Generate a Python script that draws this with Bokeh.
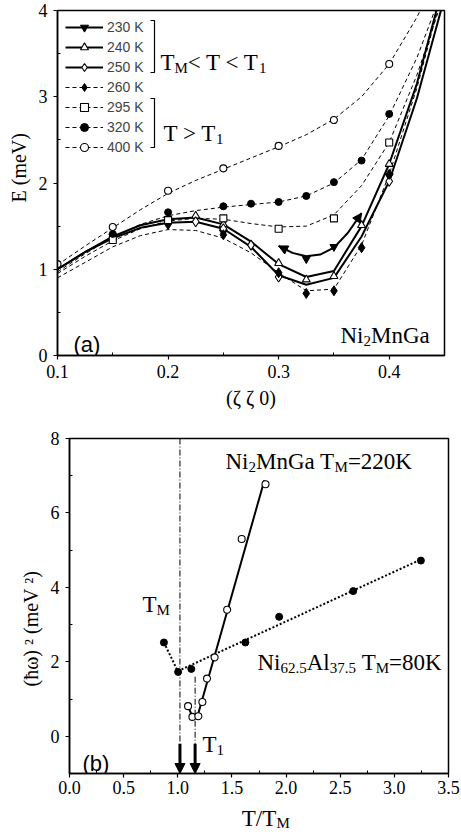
from bokeh.plotting import figure
from bokeh.models import (Legend, LegendItem, Label, Arrow, NormalHead, FixedTicker,
                          NumeralTickFormatter, Title)
from bokeh.embed import file_html
from bokeh.resources import INLINE

SERIF = "Liberation Serif"
SANS = "Liberation Sans"

# ---------------- panel (a) : measured points ----------------
q_230 = [0.15, 0.20, 0.25, 0.325, 0.35, 0.40]
E_230 = [1.38, 1.57, 1.43, 1.12, 1.26, 2.08]
q_240 = [0.15, 0.20, 0.225, 0.25, 0.30, 0.325, 0.35, 0.375, 0.40]
E_240 = [1.37, 1.58, 1.62, 1.52, 1.07, 0.88, 0.92, 1.51, 2.22]
q_250 = [0.15, 0.20, 0.225, 0.25, 0.275, 0.30, 0.40]
E_250 = [1.36, 1.55, 1.55, 1.47, 1.28, 0.91, 2.02]
q_260 = [0.15, 0.20, 0.25, 0.30, 0.325, 0.35, 0.375, 0.40]
E_260 = [1.40, 1.52, 1.40, 0.96, 0.72, 0.75, 1.25, 2.10]
q_295 = [0.15, 0.20, 0.25, 0.30, 0.35, 0.40]
E_295 = [1.34, 1.57, 1.59, 1.47, 1.59, 2.47]
q_320 = [0.15, 0.20, 0.25, 0.275, 0.30, 0.325, 0.35, 0.375, 0.40]
E_320 = [1.41, 1.66, 1.73, 1.76, 1.78, 1.85, 2.01, 2.26, 2.80]
q_400 = [0.10, 0.15, 0.20, 0.25, 0.30, 0.35, 0.40]
E_400 = [1.06, 1.49, 1.91, 2.17, 2.43, 2.73, 3.38]

# fitted curves
q_fit = [0.100, 0.125, 0.150, 0.175, 0.200, 0.225, 0.250, 0.275, 0.300,
         0.325, 0.350, 0.375, 0.400, 0.425, 0.450]
fit_240 = [1.00, 1.20, 1.38, 1.51, 1.58, 1.60, 1.52, 1.32, 1.06, 0.91, 0.98, 1.50, 2.22, 3.15, 4.35]
fit_250 = [1.00, 1.20, 1.36, 1.48, 1.54, 1.55, 1.47, 1.26, 0.93, 0.82, 0.90, 1.38, 2.02, 2.98, 4.15]
fit_260 = [0.90, 1.08, 1.26, 1.39, 1.46, 1.45, 1.36, 1.19, 0.96, 0.75, 0.77, 1.28, 2.10, 3.10, 4.30]
fit_295 = [0.95, 1.15, 1.33, 1.47, 1.56, 1.59, 1.58, 1.53, 1.49, 1.50, 1.63, 1.97, 2.47, 3.25, 4.20]
fit_320 = [0.97, 1.18, 1.37, 1.52, 1.62, 1.68, 1.72, 1.75, 1.78, 1.85, 2.00, 2.27, 2.78, 3.45, 4.30]
fit_400 = [1.05, 1.27, 1.48, 1.69, 1.88, 2.03, 2.16, 2.29, 2.42, 2.56, 2.74, 3.00, 3.38, 3.92, 4.60]
q_fit_230 = [0.300, 0.3125, 0.325, 0.3375, 0.350, 0.3625, 0.375]
fit_230 = [1.27, 1.19, 1.15, 1.17, 1.25, 1.42, 1.65]

# ---------------- panel (b) ----------------
t_nmg = [1.095, 1.135, 1.19, 1.227, 1.27, 1.34, 1.456, 1.59, 1.81]
w2_nmg = [0.81, 0.52, 0.54, 0.92, 1.55, 2.12, 3.40, 5.30, 6.77]
t_nmg_fit = [1.095, 1.135, 1.18, 1.80]
w2_nmg_fit = [0.81, 0.52, 0.52, 6.88]
t_nal = [0.872, 1.003, 1.125, 1.624, 1.936, 2.62, 3.245]
w2_nal = [2.52, 1.73, 1.81, 2.52, 3.21, 3.90, 4.72]
t_nal_fit = [0.872, 1.0, 3.245]
w2_nal_fit = [2.52, 1.75, 4.75]
tm_pos, t1_pos = 1.02, 1.16
t1_line_top = 1.6
arrow_top = -0.2

W = 461

# ---------------- panel (a) figure ----------------
A_L, A_R, A_T, A_B = 57, 444, 10, 355     # page pixel frame
H1 = 420
p1 = figure(width=W, height=H1, x_range=(0.1, 0.45), y_range=(0, 4),
            output_backend="svg", toolbar_location=None,
            min_border_left=A_L, min_border_right=W - A_R,
            min_border_top=A_T, min_border_bottom=H1 - A_B)

def ax(px):
    return 0.1 + (px - A_L) * 0.35 / (A_R - A_L)

def ay(py):
    return (A_B - py) * 4.0 / (A_B - A_T)

B_L, B_R, B_T, B_B = 69, 448, 438, 773
H2 = 417
p2 = figure(width=W, height=H2, x_range=(0, 3.5), y_range=(-1, 8),
            output_backend="svg", toolbar_location=None,
            min_border_left=B_L, min_border_right=W - B_R,
            min_border_top=B_T - H1, min_border_bottom=H1 + H2 - B_B)

def bx(px):
    return (px - B_L) * 3.5 / (B_R - B_L)

def by(py):
    return -1 + (B_B - py) * 9.0 / (B_B - B_T)

for p in (p1, p2):
    p.xgrid.visible = False
    p.ygrid.visible = False
    p.outline_line_color = "black"
    p.outline_line_width = 1.5
    p.background_fill_color = "white"
    p.border_fill_color = "white"
    for a in (p.xaxis, p.yaxis):
        a.axis_line_width = 1.5
        a.axis_line_color = "black"
        a.major_tick_line_color = "black"
        a.minor_tick_line_color = "black"
        a.major_tick_line_width = 1.2
        a.minor_tick_line_width = 1
        a.major_label_text_font = SERIF
        a.major_label_text_font_size = "18px"
        a.major_label_text_color = "black"
        a.major_tick_out = 4
        a.major_tick_in = 0
        a.minor_tick_out = 0
        a.minor_tick_in = 3
        a.axis_label_text_font = SERIF
        a.axis_label_text_font_style = "normal"
        a.axis_label_text_color = "black"

p1.xaxis.ticker = FixedTicker(ticks=[0.1, 0.2, 0.3, 0.4], minor_ticks=[0.15, 0.25, 0.35, 0.45])
p1.yaxis.ticker = FixedTicker(ticks=[0, 1, 2, 3, 4], minor_ticks=[0.5, 1.5, 2.5, 3.5])
p1.xaxis.formatter = NumeralTickFormatter(format="0.0")
p1.xaxis.major_label_standoff = 5
p1.yaxis.major_label_standoff = 6
p1.xaxis.axis_label = "(ζ ζ 0)"
p1.xaxis.axis_label_text_font_size = "20px"
p1.xaxis.axis_label_standoff = 6

p2.xaxis.ticker = FixedTicker(ticks=[0, 0.5, 1, 1.5, 2, 2.5, 3, 3.5],
                              minor_ticks=[0.25, 0.75, 1.25, 1.75, 2.25, 2.75, 3.25])
p2.yaxis.ticker = FixedTicker(ticks=[0, 2, 4, 6, 8], minor_ticks=[-1, 1, 3, 5, 7])
p2.xaxis.formatter = NumeralTickFormatter(format="0.0")
p2.xaxis.major_label_standoff = 3
p2.yaxis.major_label_standoff = 6
p2.xaxis.axis_label = "T/T"
p2.xaxis.axis_label_text_font_size = "23px"
p2.xaxis.axis_label_standoff = 9

# rotated axis titles placed along the axis like the reference
p1.add_layout(Title(text="E (meV)", align="left", offset=153, standoff=11,
                    text_font=SERIF, text_font_size="20px", text_font_style="normal",
                    text_color="black"), "left")
p2.add_layout(Title(text="(ħω) ² (meV ²)", align="left", offset=87, standoff=11,
                    text_font=SERIF, text_font_size="20px", text_font_style="normal",
                    text_color="black"), "left")
# subscript of T/T_M
p2.add_layout(Title(text="M", align="left", offset=207, standoff=-37, vertical_align="top",
                    text_font=SERIF, text_font_size="15px", text_font_style="normal",
                    text_color="black"), "below")

DASH = "4 3"
MS = 7

def open_m(p, x, y, marker, size=MS):
    return p.scatter(x, y, marker=marker, size=size, fill_color="white",
                     line_color="black", line_width=1.1)

def full_m(p, x, y, marker, size=MS):
    return p.scatter(x, y, marker=marker, size=size, fill_color="black",
                     line_color="black", line_width=1)

# curves
l230 = p1.line(q_fit_230, fit_230, line_color="black", line_width=2)
l240 = p1.line(q_fit, fit_240, line_color="black", line_width=2)
l250 = p1.line(q_fit, fit_250, line_color="black", line_width=2)
l260 = p1.line(q_fit, fit_260, line_color="black", line_width=1, line_dash=DASH)
l295 = p1.line(q_fit, fit_295, line_color="black", line_width=1, line_dash=DASH)
l320 = p1.line(q_fit, fit_320, line_color="black", line_width=1, line_dash=DASH)
l400 = p1.line(q_fit, fit_400, line_color="black", line_width=1, line_dash=DASH)

# arrowheads of the 230 K branch
for i0, i1 in ((1, 0), (-2, -1)):
    p1.add_layout(Arrow(end=NormalHead(size=9, fill_color="black", line_color="black"),
                        x_start=q_fit_230[i0], y_start=fit_230[i0],
                        x_end=q_fit_230[i1], y_end=fit_230[i1], line_alpha=0))

m230 = full_m(p1, q_230, E_230, "inverted_triangle", 8)
m240 = open_m(p1, q_240, E_240, "triangle", 8)
m250 = open_m(p1, q_250, E_250, "diamond", 10)
m260 = full_m(p1, q_260, E_260, "diamond", 10)
m295 = open_m(p1, q_295, E_295, "square", 7)
m320 = full_m(p1, q_320, E_320, "circle", 7)
m400 = open_m(p1, q_400, E_400, "circle", 7)

labels = ["230 K", "240 K", "250 K", "260 K", "295 K", "320 K", "400 K"]
pairs = [(l230, m230), (l240, m240), (l250, m250), (l260, m260),
         (l295, m295), (l320, m320), (l400, m400)]
legend = Legend(items=[LegendItem(label=lab, renderers=list(rr)) for lab, rr in zip(labels, pairs)],
                location=(8, A_B - 157), orientation="vertical",
                glyph_width=38, glyph_height=20, label_height=20, label_standoff=4,
                spacing=0, padding=0, margin=0,
                label_text_font=SANS, label_text_font_size="14px",
                background_fill_alpha=0, border_line_alpha=0)
p1.add_layout(legend)

# brackets
for top, bot in ((20, 72), (98, 147)):
    p1.line([ax(150), ax(154), ax(154), ax(150)], [ay(top), ay(top), ay(bot), ay(bot)],
            line_color="black", line_width=1.2)

def lab(p, x, y, text, size, font=SERIF, dx=0, dy=0, angle=0, align="left", baseline="alphabetic"):
    p.add_layout(Label(x=x, y=y, x_offset=dx, y_offset=dy, text=text, text_font=font,
                       text_font_size=f"{size}px", text_color="black", text_align=align,
                       text_baseline=baseline, angle=angle))

# "T_M< T < T_1"
lab(p1, ax(160), ay(62), "T", 23)
lab(p1, ax(160), ay(62), "M", 15, dx=14, dy=-5)
lab(p1, ax(160), ay(62), "< T < T", 23, dx=27.3)
lab(p1, ax(160), ay(62), "1", 15, dx=98.6, dy=-5)
# "T > T_1"
lab(p1, ax(163), ay(133), "T > T", 23)
lab(p1, ax(163), ay(133), "1", 15, dx=52.6, dy=-5)
# (a), Ni2MnGa
lab(p1, ax(73), ay(344), "(a)", 22, font=SANS)
lab(p1, ax(340), ay(335), "Ni", 23)
lab(p1, ax(340), ay(335), "2", 15, dx=23, dy=-5)
lab(p1, ax(340), ay(335), "MnGa", 23, dx=30.5)

# ---------------- panel (b) ----------------
p2.line([tm_pos, tm_pos], [8, arrow_top], line_color="black", line_width=1, line_dash="6 2 1 2")
p2.line([t1_pos, t1_pos], [t1_line_top, arrow_top], line_color="black", line_width=1, line_dash="6 2 1 2")
for xp in (tm_pos, t1_pos):
    p2.add_layout(Arrow(end=NormalHead(size=10, fill_color="black", line_color="black"),
                        x_start=xp, y_start=arrow_top, x_end=xp, y_end=-1,
                        line_width=3, line_color="black"))

p2.line(t_nal_fit, w2_nal_fit, line_color="black", line_width=2, line_dash="2 2")
p2.line(t_nmg_fit, w2_nmg_fit, line_color="black", line_width=2)
full_m(p2, t_nal, w2_nal, "circle", 7)
open_m(p2, t_nmg, w2_nmg, "circle", 7)

# Ni2MnGa T_M=220K
lab(p2, bx(225), by(461), "Ni", 23)
lab(p2, bx(225), by(461), "2", 15, dx=23, dy=-5)
lab(p2, bx(225), by(461), "MnGa T", 23, dx=30.5)
lab(p2, bx(225), by(461), "M", 15, dx=109.1, dy=-5)
lab(p2, bx(225), by(461), "=220K", 23, dx=122.4)
# Ni62.5Al37.5 T_M=80K
lab(p2, bx(257), by(662), "Ni", 23)
lab(p2, bx(257), by(662), "62.5", 15, dx=23, dy=-5)
lab(p2, bx(257), by(662), "Al", 23, dx=49.25)
lab(p2, bx(257), by(662), "37.5", 15, dx=72.25, dy=-5)
lab(p2, bx(257), by(662), "T", 23, dx=104.3)
lab(p2, bx(257), by(662), "M", 15, dx=118.3, dy=-5)
lab(p2, bx(257), by(662), "=80K", 23, dx=131.6)
# T_M and T_1
lab(p2, bx(142), by(604), "T", 23)
lab(p2, bx(142), by(604), "M", 15, dx=14, dy=-5)
lab(p2, bx(202), by(744), "T", 23)
lab(p2, bx(202), by(744), "1", 15, dx=14, dy=-5)
lab(p2, bx(82), by(763), "(b)", 22, font=SANS)

open("out.html", "w").write(file_html([p1, p2], INLINE))
